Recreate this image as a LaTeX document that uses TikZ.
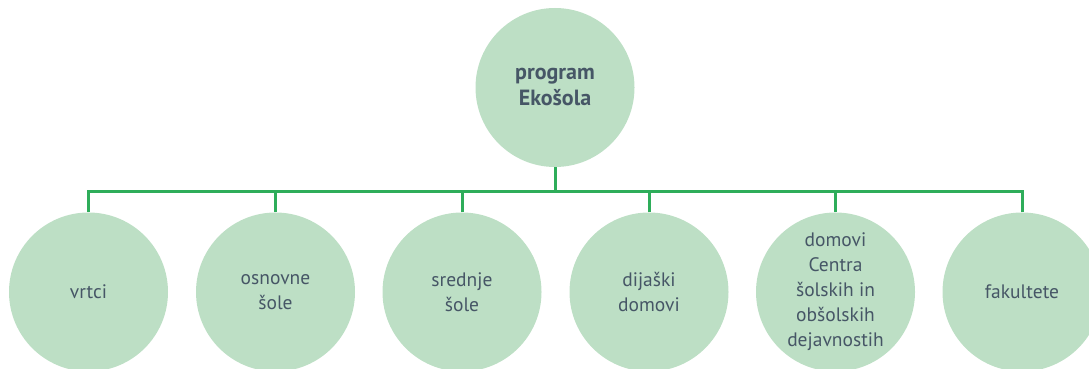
\documentclass[tikz,border=0pt]{standalone}
\usepackage{fontspec}
\setmainfont{PT Sans}
\definecolor{circfill}{HTML}{BDDFC5}
\definecolor{linegreen}{HTML}{2EAD5A}
\definecolor{txt}{HTML}{465666}
\begin{document}
\begin{tikzpicture}[x=1pt,y=1pt,
  bubble/.style={circle,fill=circfill,minimum size=159pt,inner sep=0pt,text=txt,align=center,
    font=\fontsize{19.5}{25}\selectfont},
  topbubble/.style={bubble,font=\fontsize{22}{26}\selectfont\bfseries},
  conn/.style={draw=linegreen,line width=3pt}]
\useasboundingbox (0,0) rectangle (1089,369);
\clip (0,0) rectangle (1089,369);
\coordinate (bus) at (555,177.5);
\node[topbubble] (top) at (555,281.5) {program\\Ekošola};
\node[bubble] (c1) at (88.5,77) {vrtci};
\node[bubble] (c2) at (275.5,77) {osnovne\\šole};
\node[bubble] (c3) at (462,77) {srednje\\šole};
\node[bubble] (c4) at (649,77) {dijaški\\domovi};
\node[bubble] (c5) at (835.5,77) {domovi\\Centra\\šolskih in\\obšolskih\\dejavnostih};
\node[bubble] (c6) at (1022,77) {fakultete};
\draw[conn] (top.south) -- (bus);
\foreach \c in {c1,c2,c3,c4,c5,c6} {
  \draw[conn] (\c.north) |- (bus);
}
\end{tikzpicture}
\end{document}
